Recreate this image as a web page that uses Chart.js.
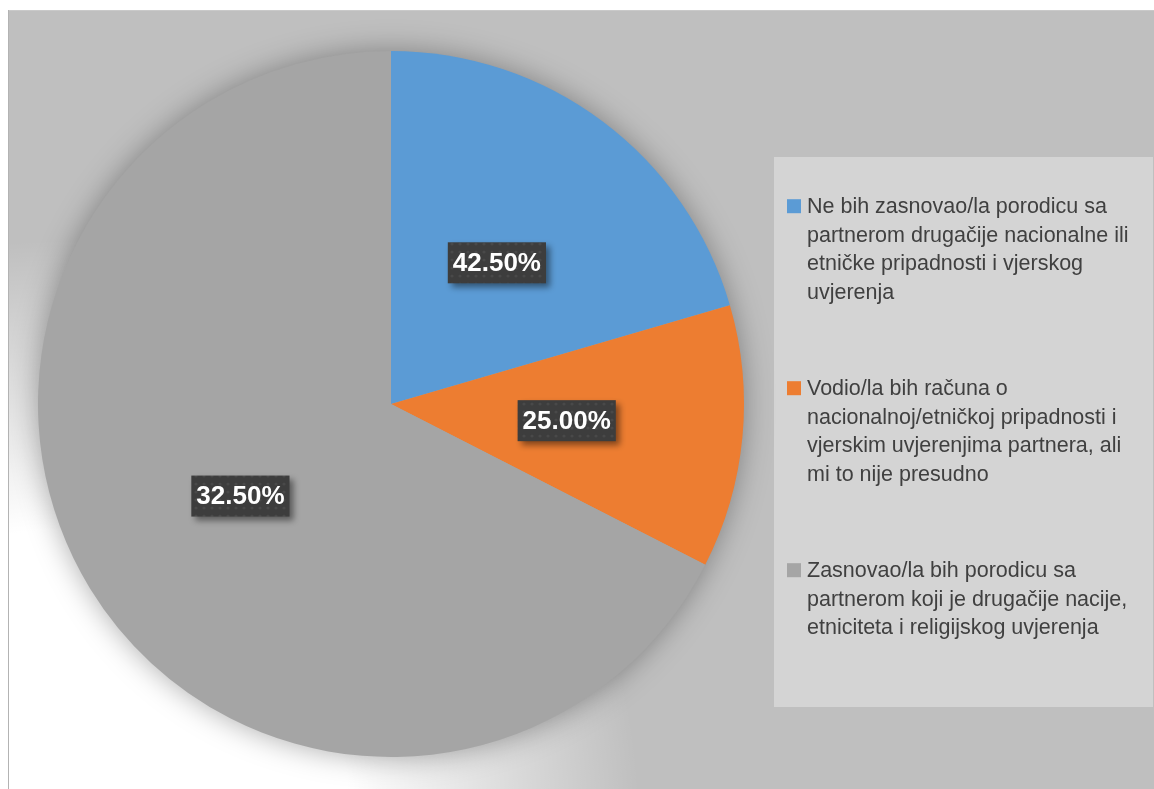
<!DOCTYPE html>
<html>
<head>
<meta charset="utf-8">
<script src="https://cdn.jsdelivr.net/npm/chart.js@4.4.1/dist/chart.umd.min.js"></script>
<style>
  html, body { margin: 0; padding: 0; background: #ffffff; }
  #wrap { position: relative; width: 1154px; height: 789px; }
</style>
</head>
<body>
<div id="wrap"><canvas id="pieChart" width="1154" height="789"></canvas></div>
<script>
// categories (legend text, already broken into lines as in the picture)
const categories = [
    ['Ne bih zasnovao/la porodicu sa', 'partnerom drugačije nacionalne ili', 'etničke pripadnosti i vjerskog', 'uvjerenja'],
    ['Vodio/la bih računa o', 'nacionalnoj/etničkoj pripadnosti i', 'vjerskim uvjerenjima partnera, ali', 'mi to nije presudno'],
    ['Zasnovao/la bih porodicu sa', 'partnerom koji je drugačije nacije,', 'etniciteta i religijskog uvjerenja']
];
// slice sizes as drawn in the picture (gray slice is drawn much larger than its label)
const sliceValues = [42.5, 25, 140];
// percent labels printed on the slices
const percentLabels = ['42.50%', '25.00%', '32.50%'];
const sliceColors = ['#5b9bd5', '#ed7d31', '#a5a5a5'];

document.addEventListener('DOMContentLoaded', function() {
    const canvas = document.getElementById('pieChart');

    // pattern for the dark label boxes
    function makeDotPattern(ctx) {
        const p = document.createElement('canvas');
        p.width = 8; p.height = 8;
        const pc = p.getContext('2d');
        pc.fillStyle = '#3d3d3d';
        pc.fillRect(0, 0, 8, 8);
        pc.fillStyle = '#494949';
        pc.beginPath();
        pc.arc(4, 4, 1.6, 0, Math.PI * 2);
        pc.fill();
        return ctx.createPattern(p, 'repeat');
    }

    // background frame, glow and pie shadow
    const backdrop = {
        id: 'backdrop',
        beforeDraw(chart) {
            const ctx = chart.ctx;
            ctx.save();
            ctx.fillStyle = '#ffffff';
            ctx.fillRect(0, 0, chart.width, chart.height);
            ctx.fillStyle = '#bfbfbf';
            ctx.fillRect(8, 10, chart.width - 8, chart.height - 10);

            // soft white light in the lower left
            const g = ctx.createRadialGradient(60, 820, 0, 60, 820, 580);
            g.addColorStop(0, 'rgba(255,255,255,1)');
            g.addColorStop(0.5, 'rgba(255,255,255,1)');
            g.addColorStop(1, 'rgba(255,255,255,0)');
            ctx.fillStyle = g;
            ctx.fillRect(8, 10, chart.width - 8, chart.height - 10);

            // frame lines
            ctx.fillStyle = '#c9c9c9';
            ctx.fillRect(8, 10, chart.width - 8, 1);
            ctx.fillStyle = '#b3b3b3';
            ctx.fillRect(8, 10, 1, chart.height - 10);

            // legend panel
            ctx.fillStyle = '#d4d4d4';
            ctx.fillRect(774, 157, 379, 550);
            ctx.restore();
        },
        beforeDatasetsDraw(chart) {
            const arc = chart.getDatasetMeta(0).data[0];
            if (!arc) return;
            const ctx = chart.ctx;
            ctx.save();
            ctx.shadowColor = 'rgba(0,0,0,0.35)';
            ctx.shadowBlur = 30;
            ctx.fillStyle = '#a5a5a5';
            ctx.beginPath();
            ctx.arc(arc.x, arc.y, arc.outerRadius - 1, 0, Math.PI * 2);
            ctx.fill();
            ctx.restore();
        }
    };

    // percent boxes on the slices
    const sliceLabels = {
        id: 'sliceLabels',
        afterDatasetsDraw(chart) {
            const ctx = chart.ctx;
            const pattern = makeDotPattern(ctx);
            ctx.save();
            ctx.font = 'bold 26px "Liberation Sans", Arial, sans-serif';
            ctx.textAlign = 'center';
            ctx.textBaseline = 'middle';
            chart.getDatasetMeta(0).data.forEach((arc, i) => {
                const pos = arc.tooltipPosition();
                const w = ctx.measureText(percentLabels[i]).width + 10;
                const h = 41;
                ctx.save();
                ctx.shadowColor = 'rgba(0,0,0,0.45)';
                ctx.shadowBlur = 6;
                ctx.shadowOffsetX = 4;
                ctx.shadowOffsetY = 4;
                ctx.fillStyle = pattern;
                ctx.fillRect(pos.x - w / 2, pos.y - h / 2, w, h);
                ctx.restore();
                ctx.fillStyle = '#ffffff';
                ctx.fillText(percentLabels[i], pos.x, pos.y + 1);
            });
            ctx.restore();
        }
    };

    // legend drawn at the right, in the panel
    const sideLegend = {
        id: 'sideLegend',
        afterDraw(chart) {
            const ctx = chart.ctx;
            ctx.save();
            ctx.font = '21.5px "Liberation Sans", Arial, sans-serif';
            ctx.textBaseline = 'alphabetic';
            ctx.textAlign = 'left';
            chart.data.labels.forEach((lines, i) => {
                const top = 212.7 + i * 182;
                ctx.fillStyle = chart.data.datasets[0].backgroundColor[i];
                ctx.fillRect(787, top - 13.5, 14, 14);
                ctx.fillStyle = '#404040';
                lines.forEach((line, j) => {
                    ctx.fillText(line, 807, top + j * 28.8);
                });
            });
            ctx.restore();
        }
    };

    new Chart(canvas, {
        type: 'pie',
        data: {
            labels: categories,
            datasets: [{
                data: sliceValues,
                backgroundColor: sliceColors,
                borderWidth: 0
            }]
        },
        options: {
            responsive: false,
            animation: false,
            layout: {
                padding: { top: 51, bottom: 32, left: 38, right: 410 }
            },
            plugins: {
                legend: { display: false },
                tooltip: { enabled: false }
            }
        },
        plugins: [backdrop, sliceLabels, sideLegend]
    });
});
</script>
</body>
</html>
